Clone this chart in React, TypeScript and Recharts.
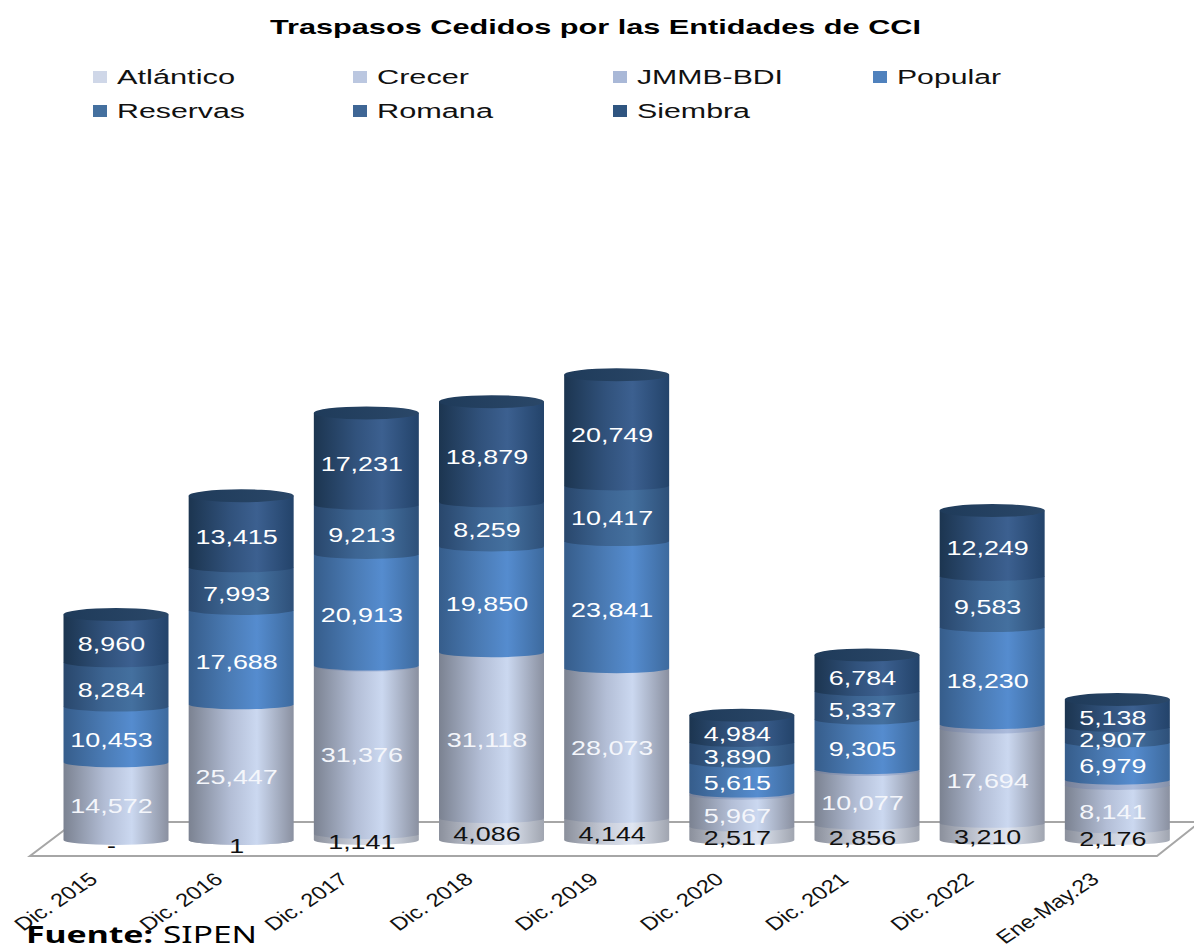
import React from "react";
import { BarChart, Bar, XAxis, YAxis, Legend, LabelList, Customized } from "recharts";

const categories = ["Dic. 2015", "Dic. 2016", "Dic. 2017", "Dic. 2018", "Dic. 2019", "Dic. 2020", "Dic. 2021", "Dic. 2022", "Ene-May.23"];
const atlantico = [0, 1, 1141, 4086, 4144, 2517, 2856, 3210, 2176];
const crecer = [14572, 25447, 31376, 31118, 28073, 5967, 10077, 17694, 8141];
const jmmb = [0, 0, 200, 0, 0, 400, 350, 800, 1000];
const popular = [10453, 17688, 20913, 19850, 23841, 5615, 9305, 18230, 6979];
const reservas = [0, 0, 0, 0, 0, 0, 0, 0, 0];
const romana = [8284, 7993, 9213, 8259, 10417, 3890, 5337, 9583, 2907];
const siembra = [8960, 13415, 17231, 18879, 20749, 4984, 6784, 12249, 5138];

const rows = categories.map((name, i) => ({
  name,
  "Atlántico": atlantico[i],
  Crecer: crecer[i],
  "JMMB-BDI": jmmb[i],
  Popular: popular[i],
  Reservas: reservas[i],
  Romana: romana[i],
  Siembra: siembra[i],
}));

const FONT = "'Liberation Sans', Arial, sans-serif";

const seriesStyle = [
  { key: "Atlántico", id: "gAtl", fill: "#CFD7E8", stops: ["#8b909c", "#c9ceda", "#dfe5f1", "#a0a5b0"], label: "#111111" },
  { key: "Crecer", id: "gCre", fill: "#BBC7E0", stops: ["#7b8291", "#b3bed6", "#cbd8f0", "#8a90a0"], label: "#f4f6fb" },
  { key: "JMMB-BDI", id: "gJmm", fill: "#A9B8D7", stops: ["#767f96", "#9aa9c9", "#abbbdc", "#8590a8"], label: "" },
  { key: "Popular", id: "gPop", fill: "#4F81BD", stops: ["#365d8b", "#4b7cb6", "#558ccf", "#3d6a9e"], label: "#ffffff" },
  { key: "Reservas", id: "gRes", fill: "#44709F", stops: ["#2f507a", "#4270a6", "#4a7ab0", "#335a88"], label: "" },
  { key: "Romana", id: "gRom", fill: "#3F6695", stops: ["#29476c", "#3d6593", "#44709f", "#2e5079"], label: "#ffffff" },
  { key: "Siembra", id: "gSie", fill: "#2F5580", stops: ["#1c3550", "#31527c", "#3c6090", "#23436a"], label: "#ffffff" },
];

const legendSlots = [
  { x: 93, y: 77, w: 118 },
  { x: 353, y: 77, w: 92 },
  { x: 613, y: 77, w: 146 },
  { x: 873, y: 77, w: 104 },
  { x: 93, y: 111, w: 128 },
  { x: 353, y: 111, w: 116 },
  { x: 613, y: 111, w: 113 },
];

const SAG = 5;

const makeShape = (gradId: string, isTop: boolean) => (props: any) => {
  const { x, y, width, height } = props;
  if (!(height > 0)) return <g />;
  const rx = width / 2;
  const d = `M${x},${y} L${x},${y + height} A${rx},${SAG} 0 0 0 ${x + width},${y + height} L${x + width},${y} Z`;
  return (
    <g>
      <path d={d} fill={`url(#${gradId})`} />
      {isTop && <ellipse cx={x + rx} cy={y} rx={rx} ry={6.5} fill="url(#gCap)" />}
    </g>
  );
};

const makeLabel = (color: string, isBase: boolean) => (props: any) => {
  const { x, y, width, height, value } = props;
  const text = value === 0 ? "-" : Number(value).toLocaleString("en-US");
  const cy = y + height / 2 + (isBase && height < 5 ? 8 : 7);
  return (
    <text
      transform={`translate(${x + width / 2 - 4.5},${cy}) scale(1.38,1)`}
      textAnchor="middle"
      dominantBaseline="middle"
      fontFamily={FONT}
      fontSize={19.5}
      fill={color}
    >
      {text}
    </text>
  );
};

const XTick = (props: any) => {
  const { x, y, payload } = props;
  return (
    <text
      transform={`translate(${x - 17},${y + 35}) scale(1.3,1) rotate(-41)`}
      textAnchor="end"
      fontFamily={FONT}
      fontSize={18.3}
      fill="#111111"
    >
      {payload.value}
    </text>
  );
};

const LegendBox = (props: any) => {
  const items = props.payload || [];
  return (
    <svg width={1194} height={130} style={{ display: "block" }}>
      {items.map((it: any, i: number) => {
        const s = legendSlots[i];
        if (!s) return null;
        return (
          <g key={it.value}>
            <rect x={s.x} y={s.y - 6} width={14} height={12} fill={it.color} />
            <text
              x={s.x + 24}
              y={s.y + 7}
              fontFamily={FONT}
              fontSize={20}
              fill="#111111"
              textLength={s.w}
              lengthAdjust="spacingAndGlyphs"
            >
              {it.value}
            </text>
          </g>
        );
      })}
    </svg>
  );
};

const Floor = () => (
  <polygon points="30,856 1157,856 1200,822 75,822" fill="none" stroke="#a6a6a6" strokeWidth={2} />
);

const Notes = () => (
  <g>
    <text x={270} y={34} fontFamily={FONT} fontWeight="bold" fontSize={21} fill="#000" textLength={651} lengthAdjust="spacingAndGlyphs">
      Traspasos Cedidos por las Entidades de CCI
    </text>
    <text x={26} y={943} fontFamily="'Noto Sans', sans-serif" fontWeight="bold" fontSize={23} fill="#000" textLength={127} lengthAdjust="spacingAndGlyphs">
      Fuente:
    </text>
    <text x={163} y={943} fontFamily="'Noto Sans', sans-serif" fontSize={23} fill="#000" textLength={94} lengthAdjust="spacingAndGlyphs">
      SIPEN
    </text>
  </g>
);

export default function App() {
  return (
    <div style={{ position: "absolute", left: 0, top: 0, width: 1194, height: 949, overflow: "hidden" }}>
      <BarChart
        width={1194}
        height={949}
        data={rows}
        margin={{ top: 40, right: 14, bottom: 0, left: 53.5 }}
        barCategoryGap={0}
      >
        <defs>
          {seriesStyle.map((s) => (
            <linearGradient key={s.id} id={s.id} x1="0" y1="0" x2="1" y2="0">
              <stop offset="0%" stopColor={s.stops[0]} />
              <stop offset="40%" stopColor={s.stops[1]} />
              <stop offset="65%" stopColor={s.stops[2]} />
              <stop offset="100%" stopColor={s.stops[3]} />
            </linearGradient>
          ))}
          <linearGradient id="gCap" x1="0" y1="0" x2="1" y2="0">
            <stop offset="0%" stopColor="#1f3b5a" />
            <stop offset="100%" stopColor="#2a4768" />
          </linearGradient>
        </defs>
        <Customized component={Floor} />
        <XAxis
          dataKey="name"
          axisLine={false}
          tickLine={false}
          interval={0}
          height={109}
          tick={<XTick />}
          tickMargin={0}
        />
        <YAxis hide domain={[0, 150000]} />
        <Legend
          layout="horizontal"
          verticalAlign="middle"
          align="center"
          content={<LegendBox />}
          wrapperStyle={{ position: "absolute", left: 0, top: 0, width: 1194, height: 130 }}
        />
        {seriesStyle.map((s, idx) => (
          <Bar
            key={s.key}
            dataKey={s.key}
            stackId="a"
            barSize={105}
            fill={s.fill}
            isAnimationActive={false}
            shape={makeShape(s.id, s.key === "Siembra")}
          >
            {s.label ? (
              <LabelList dataKey={s.key} content={makeLabel(s.label, idx === 0)} />
            ) : null}
          </Bar>
        ))}
        <Customized component={Notes} />
      </BarChart>
    </div>
  );
}
